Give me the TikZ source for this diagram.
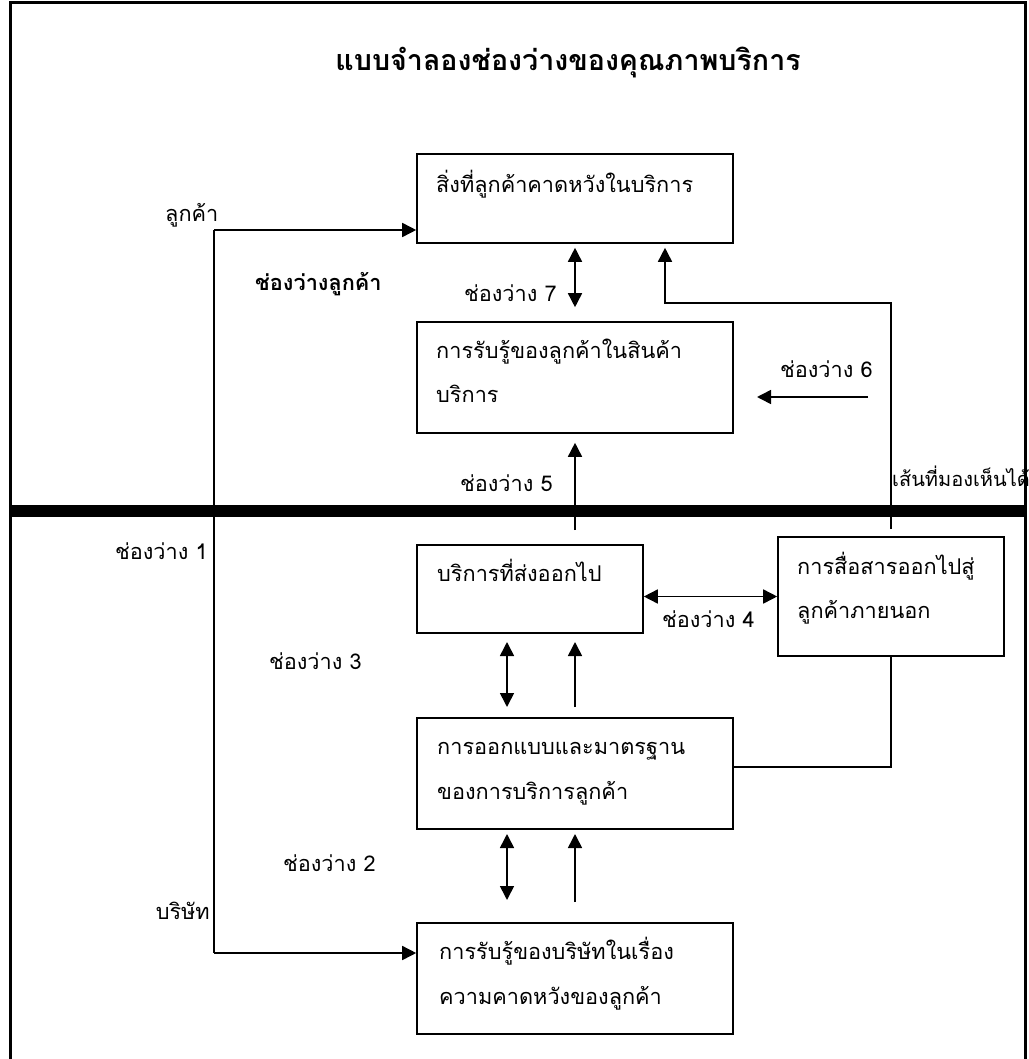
\documentclass[tikz,border=0pt]{standalone}
\usepackage{fontspec}
\setmainfont[Script=Thai]{Loma}
\usetikzlibrary{arrows.meta,calc}
\begin{document}
\begin{tikzpicture}[x=1pt,y=-1pt,
  box/.style={draw,line width=1.6pt,inner sep=0pt},
  lbl/.style={inner sep=0pt,font=\fontsize{21.7}{26}\selectfont},
  conn/.style={line width=1.6pt},
  arr/.style={conn,-{Triangle[length=14pt,width=14pt]}},
  darr/.style={conn,{Triangle[length=14pt,width=14pt]}-{Triangle[length=14pt,width=14pt]}}]
\useasboundingbox (0,0) rectangle (1028,1059);
% frame and visibility line
\draw[line width=3pt] (10,1065) -- (10,3) -- (1025,3) -- (1025,1065);
\draw[line width=12pt] (10,511) -- (1025,511);
% title
\node[inner sep=0pt,font=\fontsize{28.6}{32}\selectfont\bfseries,anchor=mid] (title) at (568,68) {แบบจำลองช่องว่างของคุณภาพบริการ};
% boxes
\node[box,minimum width=316pt,minimum height=89pt] (A) at (575,198.5) {};
\node[box,minimum width=316pt,minimum height=111pt] (B) at (575,377.5) {};
\node[box,minimum width=226pt,minimum height=88pt] (D) at (530,589) {};
\node[box,minimum width=226pt,minimum height=119pt] (G) at (891,596.5) {};
\node[box,minimum width=316pt,minimum height=111pt] (E) at (575,773.5) {};
\node[box,minimum width=316pt,minimum height=111pt] (F) at (575,978.5) {};
% box texts
\node[lbl,anchor=mid west] (tA) at (436,190) {สิ่งที่ลูกค้าคาดหวังในบริการ};
\node[lbl,anchor=mid west] (tB1) at (436,355.5) {การรับรู้ของลูกค้าในสินค้า};
\node[lbl,anchor=mid west] (tB2) at (436,400) {บริการ};
\node[lbl,anchor=mid west] (tD) at (437,579) {บริการที่ส่งออกไป};
\node[lbl,anchor=mid west] (tG1) at (797,571.5) {การสื่อสารออกไปสู่};
\node[lbl,anchor=mid west] (tG2) at (797,616) {ลูกค้าภายนอก};
\node[lbl,anchor=mid west] (tE1) at (437,751.5) {การออกแบบและมาตรฐาน};
\node[lbl,anchor=mid west] (tE2) at (437,796.5) {ของการบริการลูกค้า};
\node[lbl,anchor=mid west] (tF1) at (439,956.5) {การรับรู้ของบริษัทในเรื่อง};
\node[lbl,anchor=mid west] (tF2) at (439,1001.5) {ความคาดหวังของลูกค้า};
% side labels
\node[lbl,anchor=mid west] (lcust) at (165,219) {ลูกค้า};
\node[lbl,anchor=mid west,font=\fontsize{21.7}{26}\selectfont\bfseries] (lgap) at (255,288) {ช่องว่างลูกค้า};
\node[lbl,anchor=mid east] (g7) at (557,299) {ช่องว่าง 7};
\node[lbl,anchor=mid east] (g6) at (873,375) {ช่องว่าง 6};
\node[lbl,anchor=mid east] (g5) at (553,489) {ช่องว่าง 5};
\node[lbl,anchor=mid west,font=\fontsize{20}{24}\selectfont] (vis) at (892,483.5) {เส้นที่มองเห็นได้};
\node[lbl,anchor=mid east] (g1) at (208,557) {ช่องว่าง 1};
\node[lbl,anchor=mid east] (g4) at (755,624.5) {ช่องว่าง 4};
\node[lbl,anchor=mid east] (g3) at (362,667) {ช่องว่าง 3};
\node[lbl,anchor=mid east] (g2) at (376,869) {ช่องว่าง 2};
\node[lbl,anchor=mid east] (lcomp) at (210,916.5) {บริษัท};
% coordinates
\coordinate (cust) at (214,230);
\coordinate (comp) at (214,953);
\coordinate (c5) at (575,530);
\coordinate (s6) at (868,397);
\coordinate (e6) at (757,397);
\coordinate (fb) at (665,303);
\coordinate (eg) at (891,767);
% connectors
\draw[arr] (cust) -- (cust -| A.west);
\draw[conn] (cust) -- (comp);
\draw[arr] (comp) -- (comp -| F.west);
\draw[darr] ($(A.south)+(0,4)$) -- ($(B.north)+(0,-14)$);
\draw[arr] (c5) -- ($(B.south)+(0,9)$);
\draw[arr] (s6) -- (e6);
\draw[arr] ($(G.north)+(0,-7)$) |- (fb) -- ($(fb |- A.south)+(0,4)$);
\draw[darr] (D.east |- G.west) -- (G.west);
\draw[conn] (eg -| E.east) -- (eg) -- (G.south);
\draw[darr] (507,642) -- (507,707);
\draw[arr] (575,707) -- (575,642);
\draw[darr] (507,834) -- (507,900);
\draw[arr] (575,902) -- (575,834);
\end{tikzpicture}
\end{document}
